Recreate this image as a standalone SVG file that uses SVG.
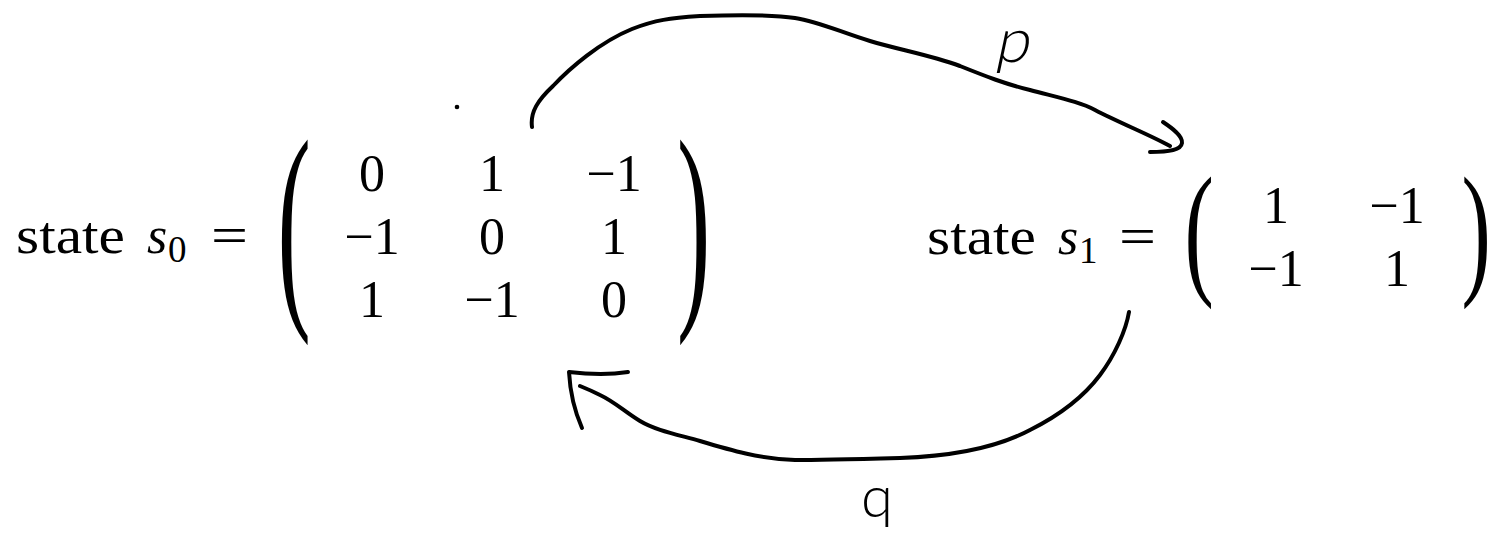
<svg xmlns="http://www.w3.org/2000/svg" width="1489" height="543" viewBox="0 0 1489 543">
<style>
.m { font-family: "Liberation Serif", "Times New Roman", serif; font-size: 52px; fill: #000; }
.it { font-style: italic; }
.sub { font-size: 37px; }
.num { text-anchor: middle; }
.paren { font-family: "Liberation Serif", "Times New Roman", serif; font-size: 100px; fill: #000; }
.edge { fill: none; stroke: #000; stroke-width: 4; stroke-linecap: round; stroke-linejoin: round; }
.hand { font-family: Lato, "Open Sans", "Liberation Sans", sans-serif; font-weight: 300; fill: #000; }
</style>
<rect width="1489" height="543" fill="#fff"/>
<g id="state-s0">
  <text class="m" x="16" y="253" textLength="109" lengthAdjust="spacingAndGlyphs">state</text>
  <text class="m it" x="147" y="253">s</text>
  <text class="m sub" x="168" y="262">0</text>
  <text class="m" x="211" y="253" textLength="37" lengthAdjust="spacingAndGlyphs">=</text>
  <text class="paren" transform="translate(277.5,296.7) scale(1.0,2.274)">(</text>
  <text class="m num" x="372" y="191">0</text>
  <text class="m num" x="492" y="191">1</text>
  <text class="m num" x="614" y="191">−1</text>
  <text class="m num" x="372" y="254">−1</text>
  <text class="m num" x="492" y="254">0</text>
  <text class="m num" x="614" y="254">1</text>
  <text class="m num" x="372" y="317">1</text>
  <text class="m num" x="492" y="317">−1</text>
  <text class="m num" x="614" y="317">0</text>
  <text class="paren" transform="translate(677,296.7) scale(1.0,2.274)">)</text>
</g>
<g id="state-s1">
  <text class="m" x="927" y="254" textLength="109" lengthAdjust="spacingAndGlyphs">state</text>
  <text class="m it" x="1058" y="254">s</text>
  <text class="m sub" x="1079" y="263">1</text>
  <text class="m" x="1119" y="254" textLength="37" lengthAdjust="spacingAndGlyphs">=</text>
  <text class="paren" transform="translate(1184.5,278.3) scale(0.88,1.454)">(</text>
  <text class="m num" x="1276" y="223">1</text>
  <text class="m num" x="1397" y="223">−1</text>
  <text class="m num" x="1276" y="286">−1</text>
  <text class="m num" x="1397" y="286">1</text>
  <text class="paren" transform="translate(1461.5,278.3) scale(0.88,1.454)">)</text>
</g>
<circle cx="457" cy="107" r="2.3" fill="#000"/>
<g id="connectors">
  <g id="edge-p">
    <path class="edge" d="M532,127 C530,112 538,100 553,86 C570,68 600,42 632,29 C655,20 670,18 700,16 C730,15 770,14 795,18 C820,22 840,32 870,41 C900,50 930,55 960,66 C985,76 1005,84 1030,90 C1060,98 1080,102 1095,110 C1120,123 1150,135 1170,146"/>
    <path class="edge" d="M1163,122 C1172,128 1183,136 1182,143 C1181,150 1170,152 1150,152"/>
    <text class="hand" transform="translate(994,62) skewX(-12)" font-size="62">p</text>
  </g>
  <g id="edge-q">
    <path class="edge" d="M1129,312 C1126,330 1115,355 1100,375 C1085,395 1060,415 1030,430 C1000,446 960,456 900,458 C860,459 820,460 795,460 C760,459 730,450 700,441 C675,434 655,430 640,421 C625,412 615,402 600,395 C592,391 585,388 580,386"/>
    <path class="edge" d="M628,372 C610,375 585,374 569,372 C570,390 574,410 582,428"/>
    <text class="hand" x="861" y="517" font-size="58">q</text>
  </g>
</g>
</svg>
